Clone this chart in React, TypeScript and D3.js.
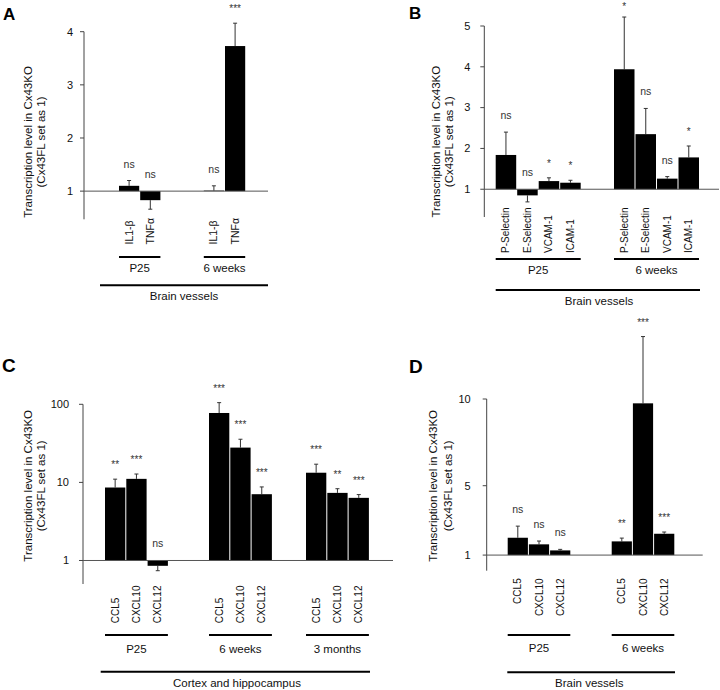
import React from 'react';
import * as d3 from 'd3';

// ---------- Panel A data ----------
const catsA = ['IL1-β', 'TNFα'];
const groupsA = ['P25', '6 weeks'];
const valsA = [[1.10, 0.83], [1.01, 3.73]];
const errsA = [[1.20, 0.66], [1.10, 4.16]];
const sigA = [['ns', 'ns'], ['ns', '***']];
const ticksA = [1, 2, 3, 4];
const tissueA = 'Brain vessels';

// ---------- Panel B data ----------
const catsB = ['P-Selectin', 'E-Selectin', 'VCAM-1', 'ICAM-1'];
const groupsB = ['P25', '6 weeks'];
const valsB = [[1.84, 0.85, 1.20, 1.16], [3.94, 2.35, 1.26, 1.78]];
const errsB = [[2.40, 0.69, 1.28, 1.22], [5.22, 2.98, 1.31, 2.06]];
const sigB = [['ns', 'ns', '*', '*'], ['*', 'ns', 'ns', '*']];
const ticksB = [1, 2, 3, 4, 5];
const tissueB = 'Brain vessels';

// ---------- Panel C data ----------
const catsC = ['CCL5', 'CXCL10', 'CXCL12'];
const groupsC = ['P25', '6 weeks', '3 months'];
const valsC = [[8.6, 11.1, 0.855], [77.4, 27.9, 7.06], [13.3, 7.34, 6.34]];
const errsC = [[11.0, 12.8, 0.74], [105, 35.7, 8.75], [17.1, 8.3, 6.98]];
const sigC = [['**', '***', 'ns'], ['***', '***', '***'], ['***', '**', '***']];
const ticksC = [1, 10, 100];
const tissueC = 'Cortex and hippocampus';

// ---------- Panel D data ----------
const catsD = ['CCL5', 'CXCL10', 'CXCL12'];
const groupsD = ['P25', '6 weeks'];
const valsD = [[2.0, 1.62, 1.27], [1.79, 9.75, 2.23]];
const errsD = [[2.67, 1.81, 1.33], [1.98, 13.6, 2.33]];
const sigD = [['ns', 'ns', 'ns'], ['**', '***', '***']];
const ticksD = [1, 5, 10];
const tissueD = 'Brain vessels';

const FONT = '"Liberation Sans", Arial, Helvetica, sans-serif';

type PanelCfg = {
  letter: string; letterX: number; letterBase: number; letterSize: number;
  cats: string[]; groups: string[]; vals: number[][]; errs: number[][]; sigs: string[][];
  ticks: number[]; tissue: string;
  log: boolean; domain: [number, number]; range: [number, number];
  axisX: number; baselineEnd: number; tickLabelOff: number;
  groupStarts: number[]; step: number;
  catY: number; catAnchor: 'start' | 'end'; catSize: number;
  groupLineY: number; groupLabelBase: number;
  tissueLine: [number, number, number]; tissueLabel: [number, number];
  titleX: [number, number]; titleY: number;
};

const panels: PanelCfg[] = [
  {
    letter: 'A', letterX: 3, letterBase: 19.5, letterSize: 17,
    cats: catsA, groups: groupsA, vals: valsA, errs: errsA, sigs: sigA, ticks: ticksA, tissue: tissueA,
    log: false, domain: [0.47, 4], range: [219.3, 31.7],
    axisX: 84, baselineEnd: 268, tickLabelOff: 11,
    groupStarts: [119, 203.8], step: 21.2,
    catY: 244.5, catAnchor: 'start', catSize: 10.5,
    groupLineY: 257, groupLabelBase: 271.7,
    tissueLine: [100, 268, 285.3], tissueLabel: [184, 300],
    titleX: [28, 41], titleY: 142,
  },
  {
    letter: 'B', letterX: 409, letterBase: 18.5, letterSize: 17,
    cats: catsB, groups: groupsB, vals: valsB, errs: errsB, sigs: sigB, ticks: ticksB, tissue: tissueB,
    log: false, domain: [0.32, 5], range: [217, 26],
    axisX: 484.3, baselineEnd: 719, tickLabelOff: 14,
    groupStarts: [495.7, 614], step: 21.5,
    catY: 253, catAnchor: 'start', catSize: 10,
    groupLineY: 259, groupLabelBase: 274,
    tissueLine: [495.7, 700, 290], tissueLabel: [599, 305],
    titleX: [436, 449], titleY: 141.7,
  },
  {
    letter: 'C', letterX: 2, letterBase: 372, letterSize: 19,
    cats: catsC, groups: groupsC, vals: valsC, errs: errsC, sigs: sigC, ticks: ticksC, tissue: tissueC,
    log: true, domain: [0.5, 100], range: [584, 404.3],
    axisX: 83, baselineEnd: 393, tickLabelOff: 14,
    groupStarts: [105, 209, 306], step: 21.3,
    catY: 623.3, catAnchor: 'start', catSize: 10,
    groupLineY: 635, groupLabelBase: 653.3,
    tissueLine: [100.7, 370, 671.7], tissueLabel: [237, 686.7],
    titleX: [28, 41], titleY: 485.8,
  },
  {
    letter: 'D', letterX: 409, letterBase: 372.5, letterSize: 19,
    cats: catsD, groups: groupsD, vals: valsD, errs: errsD, sigs: sigD, ticks: ticksD, tissue: tissueD,
    log: false, domain: [0.1, 10], range: [570.7, 399],
    axisX: 486.7, baselineEnd: 702.7, tickLabelOff: 16,
    groupStarts: [507.7, 611.7], step: 21.2,
    catY: 578.3, catAnchor: 'end', catSize: 10,
    groupLineY: 635, groupLabelBase: 651.7,
    tissueLine: [507.3, 675, 672.3], tissueLabel: [589.3, 686.7],
    titleX: [433, 448], titleY: 485.8,
  },
];

function Panel({ p }: { p: PanelCfg }) {
  const y = p.log
    ? d3.scaleLog().domain(p.domain).range(p.range)
    : d3.scaleLinear().domain(p.domain).range(p.range);
  const y1 = y(1);
  const bw = p.step - 1;
  const capW = 4;

  const bars: React.ReactNode[] = [];
  p.groups.forEach((g, gi) => {
    p.cats.forEach((c, ci) => {
      const v = p.vals[gi][ci];
      const e = p.errs[gi][ci];
      const x0 = p.groupStarts[gi] + ci * p.step;
      const cx = x0 + bw / 2;
      const yv = y(v);
      const ye = y(e);
      const top = v >= 1 ? Math.min(yv, ye) : y1;
      const s = p.sigs[gi][ci];
      const isNs = s === 'ns';
      const sigBase = Math.max(9.5, v >= 1 ? (isNs ? top - 13 : top - 11) : y1 - 13);
      bars.push(
        <g key={`${gi}-${ci}`}>
          <line x1={cx} x2={cx} y1={yv} y2={ye} stroke="#333" strokeWidth={1} />
          <line x1={cx - capW / 2} x2={cx + capW / 2} y1={ye} y2={ye} stroke="#333" strokeWidth={1} />
          <rect x={x0} y={Math.min(yv, y1)} width={bw} height={Math.abs(y1 - yv)} fill="#000" />
          <text x={cx} y={sigBase} textAnchor="middle" fontSize={isNs ? 10.5 : 10} fill="#333">{s}</text>
          <text transform={`translate(${cx + 3.5},${p.catY}) rotate(-90)`} textAnchor={p.catAnchor}
            fontSize={p.catSize} fill="#111">{c}</text>
        </g>
      );
    });
    const gx0 = p.groupStarts[gi];
    const gx1 = gx0 + (p.cats.length - 1) * p.step + bw;
    bars.push(
      <g key={`grp-${gi}`}>
        <line x1={gx0} x2={gx1} y1={p.groupLineY} y2={p.groupLineY} stroke="#000" strokeWidth={2} />
        <text x={(gx0 + gx1) / 2} y={p.groupLabelBase} textAnchor="middle" fontSize={11.5} fill="#111">{g}</text>
      </g>
    );
  });

  return (
    <g fontFamily={FONT}>
      <text x={p.letterX} y={p.letterBase} fontSize={p.letterSize} fontWeight="bold" fill="#000">{p.letter}</text>
      {/* y axis */}
      <line x1={p.axisX} x2={p.axisX} y1={p.range[0]} y2={p.range[1]} stroke="#444" strokeWidth={1} />
      {p.ticks.map(t => (
        <g key={t}>
          <line x1={p.axisX - 4} x2={p.axisX} y1={y(t)} y2={y(t)} stroke="#444" strokeWidth={1} />
          <text x={p.axisX - p.tickLabelOff} y={y(t)} dy="0.35em" textAnchor="end" fontSize={11} fill="#111">{t}</text>
        </g>
      ))}
      <g transform={`translate(0,${p.titleY})`}>
        <text transform={`translate(${p.titleX[0]},0) rotate(-90)`} dy="0.35em" textAnchor="middle" fontSize={11.5} fill="#111">Transcription level in Cx43KO</text>
        <text transform={`translate(${p.titleX[1]},0) rotate(-90)`} dy="0.35em" textAnchor="middle" fontSize={11.5} fill="#111">(Cx43FL set as 1)</text>
      </g>
      {bars}
      {/* baseline at 1 */}
      <line x1={p.axisX} x2={p.baselineEnd} y1={y1} y2={y1} stroke="#555" strokeWidth={1} />
      <line x1={p.tissueLine[0]} x2={p.tissueLine[1]} y1={p.tissueLine[2]} y2={p.tissueLine[2]} stroke="#000" strokeWidth={2} />
      <text x={p.tissueLabel[0]} y={p.tissueLabel[1]} textAnchor="middle" fontSize={11.5} fill="#111">{p.tissue}</text>
    </g>
  );
}

export default function App() {
  return (
    <svg width={720} height={690} style={{ position: 'absolute', left: 0, top: 0, background: '#fff' }}>
      <rect x={0} y={0} width={720} height={690} fill="#fff" />
      {panels.map(p => <Panel key={p.letter} p={p} />)}
    </svg>
  );
}
